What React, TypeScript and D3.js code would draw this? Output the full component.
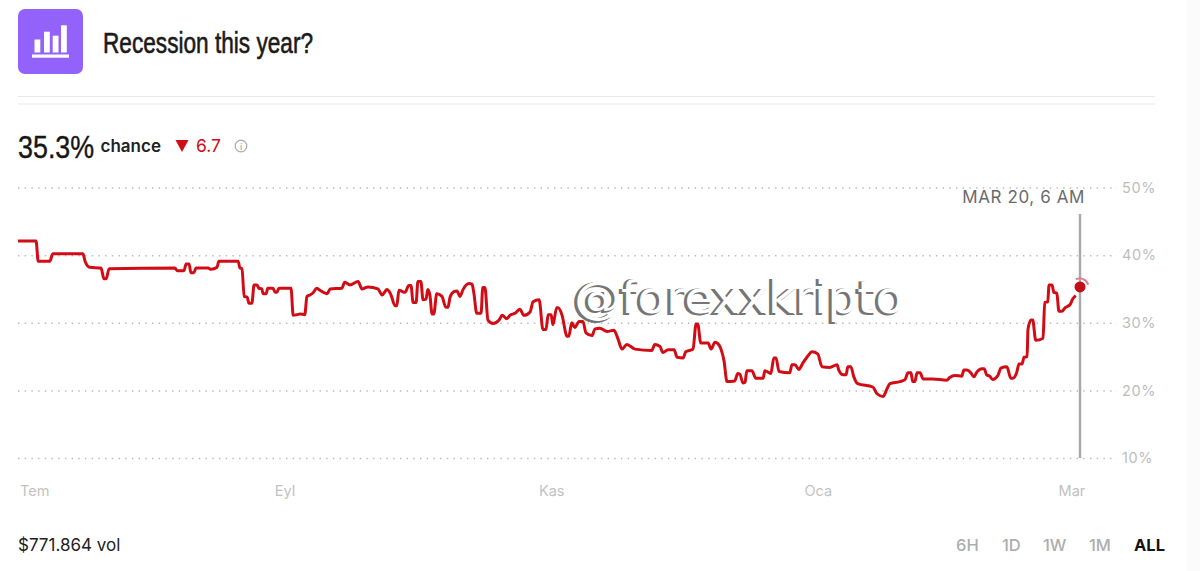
import { useEffect, useRef } from "react";
import * as d3 from "d3";

const width = 1200;
const height = 571;

const title = "Recession this year?";
const currentChance = "35.3%";
const change = "6.7";
const volume = "$771.864 vol";
const hoverLabel = "MAR 20, 6 AM";

const yTicks = [10, 20, 30, 40, 50];
const monthDays = [0, 62, 124, 186, 245];
const monthLabels = ["Tem", "Eyl", "Kas", "Oca", "Mar"];
const ranges = ["6H", "1D", "1W", "1M", "ALL"];
const rangeX = [956, 1002, 1043, 1089, 1134];

const lastDay = 247;
const lastValue = 35.3;

// [days since start, chance %]
const history: [number, number][] = [
  [0, 42.1], [4.2, 42.1], [4.7, 39.1], [7.4, 39.1], [8.1, 40.2], [15.1, 40.2], [15.6, 39.1], [16.7, 38.2],
  [19.3, 38.1], [20, 36.5], [20.5, 36.5], [21.2, 38], [36.5, 38.1], [37, 37.7], [38.6, 37.7], [39.1, 38.7],
  [39.8, 38.7], [40.2, 37.4], [40.9, 37.4], [41.4, 38.1], [44.2, 38.1], [44.9, 37.9], [46.3, 38.2], [46.7, 39.1],
  [51.2, 39.1], [51.6, 38.1], [52.1, 38], [52.6, 33.9], [53.3, 33.8], [53.7, 32.9], [54.4, 32.9], [54.9, 35.6],
  [55.6, 35.6], [56, 35.1], [56.7, 35], [57, 34.3], [57.7, 34.3], [58.1, 35.1], [59.3, 35.1], [59.8, 34.5],
  [60.2, 34.5], [60.7, 35.1], [63.5, 35.1], [64, 31.1], [64.9, 31.2], [65.6, 31.3], [66.7, 31.2], [67.2, 33.9],
  [67.9, 34.1], [68.6, 34.4], [69.5, 35.1], [70.2, 34.8], [71.9, 34.3], [72.6, 35], [75.3, 35.1], [76, 36],
  [77.2, 35.6], [79.1, 36.1], [80, 35], [81.4, 35.3], [83.7, 35], [84.7, 34.1], [85.8, 34.9], [86.7, 34.2],
  [87.7, 32.5], [88.1, 32.5], [88.6, 34.8], [90, 34.5], [90.9, 35.5], [91.4, 35.5], [91.9, 33], [92.6, 33],
  [93, 36.1], [93.7, 36.1], [94.2, 33.4], [94.9, 33.5], [95.3, 34.9], [95.8, 34.1], [96.3, 31.3], [96.7, 31.3],
  [97.4, 34.3], [98.6, 33.9], [99.5, 32.3], [100, 32.3], [100.5, 33.8], [101.4, 34.6], [102.1, 34.7], [102.8, 33.9],
  [103.5, 34.9], [104.9, 35.8], [105.6, 35.7], [106, 34.5], [106.7, 31.4], [107.7, 31.4], [108.1, 35.2], [108.6, 35.2],
  [109.3, 30.4], [110.5, 29.9], [111.9, 30.4], [112.6, 31.1], [113.7, 30.6], [114.4, 31.1], [115.6, 31.4], [116.7, 32],
  [117.7, 31.1], [119.1, 31.6], [119.8, 33.1], [121.2, 33.4], [122.1, 29], [122.8, 29], [123.3, 31.2], [124, 31.2],
  [124.4, 29.7], [125.3, 32.2], [125.6, 32.2], [126.5, 31.2], [127.7, 28], [128.1, 28], [128.8, 30], [129.5, 29.3],
  [130.5, 30.2], [131.4, 30.2], [132.1, 28.5], [133.5, 28.1], [134.2, 29.1], [135.3, 29.2], [137, 28.7], [138.6, 28.9],
  [139.5, 27.7], [140.5, 26.1], [141.6, 26.8], [143.5, 26.1], [147.4, 25.9], [148.1, 26.8], [149.3, 26.5], [150, 25.6],
  [151.2, 26], [152.6, 26], [153.3, 24.9], [154.7, 24.8], [155.3, 25.7], [157, 26.1], [157.7, 29.8], [158.1, 29.8],
  [158.8, 27], [160.5, 27], [161.2, 26.1], [162.1, 27.1], [162.6, 27], [163.5, 26.1], [164.2, 24.4], [164.9, 21.3],
  [166.7, 21.4], [167.4, 22.5], [167.9, 22.4], [168.6, 21.1], [169.1, 21.2], [169.5, 22.9], [170.7, 22.9], [171.6, 21.8],
  [173.3, 21.8], [173.7, 22.9], [175.1, 22.5], [175.8, 24.8], [176.3, 24.8], [177, 22.8], [179.5, 22.6], [180, 23.8],
  [180.7, 23.8], [181.6, 23.1], [182.6, 24.1], [183.5, 24.9], [184.7, 25.7], [186, 25.4], [187, 23.5], [188.8, 23.4],
  [190.5, 23.8], [190.9, 23], [191.9, 22.3], [192.6, 22.3], [193, 23.5], [193.7, 23.5], [194.4, 22], [195.3, 21],
  [198.8, 20.5], [199.8, 19.5], [201.2, 19.1], [202.1, 20.2], [202.8, 21], [205.1, 21.3], [206.3, 21.6], [207, 22.6],
  [207.7, 22.6], [208.1, 21.3], [208.6, 21.3], [209.1, 22.6], [209.8, 22.6], [210.5, 21.7], [212.8, 21.7], [216, 21.5],
  [216.7, 21.9], [217.9, 22.2], [219.5, 22.1], [220, 23], [220.7, 23], [221.6, 22.6], [222.3, 22], [223, 22.7],
  [224.2, 23.2], [224.7, 23.2], [225.3, 22.3], [226, 22.1], [226.7, 21.6], [227.9, 22.2], [228.6, 23.3], [230, 23.5],
  [230.9, 21.8], [231.4, 21.8], [232.3, 22.7], [232.8, 23.9], [233.5, 23.9], [234, 24.9], [234.7, 25], [234.9, 29],
  [235.6, 30.4], [236, 30.4], [236.7, 27.4], [238.4, 27.7], [238.8, 33], [239.5, 33.1], [239.8, 35.6], [240.5, 35.6],
  [240.9, 34.5], [241.6, 34.4], [242.1, 31.7], [242.8, 31.7], [243.5, 32.2], [244.7, 32.7], [245.3, 33.5], [246, 34],
];

const RED = "#d20c14";
const UI_FONT = "Inter, 'Liberation Sans', sans-serif";
const NARROW_FONT = "'Liberation Sans Narrow', 'Liberation Sans', sans-serif";

export default function App() {
  const svgRef = useRef<SVGSVGElement | null>(null);

  useEffect(() => {
    const svgElement = svgRef.current;
    if (!svgElement) return;

    const svg = d3.select(svgElement);
    svg.selectAll("*").remove();

    const xScale = d3.scaleLinear().domain([0, lastDay]).range([18, 1080]);
    const yScale = d3.scaleLinear().domain([10, 50]).range([458, 187.5]);

    // header
    svg.append("rect").attr("x", 1187).attr("width", 13).attr("height", height).attr("fill", "#fbfbfb");
    svg.append("rect").attr("x", 18).attr("y", 9).attr("width", 65).attr("height", 65).attr("rx", 7).attr("fill", "#9362fb");
    const bars: [number, number][] = [[34.5, 39.5], [44, 31.7], [52.7, 35.7], [61, 25.3]];
    svg.selectAll(".icon-bar")
      .data(bars)
      .join("rect")
      .attr("x", (d) => d[0])
      .attr("y", (d) => d[1])
      .attr("width", 5.8)
      .attr("height", (d) => 52.5 - d[1])
      .attr("fill", "#fff");
    svg.append("rect").attr("x", 32).attr("y", 54.5).attr("width", 37).attr("height", 3.2).attr("fill", "#fff");

    svg.append("text")
      .attr("x", 103).attr("y", 53)
      .attr("textLength", 210).attr("lengthAdjust", "spacingAndGlyphs")
      .attr("font-family", NARROW_FONT).attr("font-size", 29).attr("fill", "#1b1b1b")
      .attr("stroke", "#1b1b1b").attr("stroke-width", 0.6)
      .text(title);

    [96.5, 104].forEach((y) => {
      svg.append("line").attr("x1", 18).attr("x2", 1155).attr("y1", y).attr("y2", y)
        .attr("stroke", "#e9e9e9").attr("stroke-width", 1);
    });

    // squeezed by transform so the text box stays as narrow as the glyphs
    svg.append("text")
      .attr("transform", "translate(18,158) scale(0.84,1)")
      .attr("font-family", "'Liberation Sans', sans-serif").attr("font-size", 32).attr("fill", "#161616")
      .attr("stroke", "#161616").attr("stroke-width", 0.4)
      .text(currentChance);
    svg.append("text")
      .attr("x", 100.5).attr("y", 152)
      .attr("font-family", UI_FONT).attr("font-size", 17).attr("font-weight", 600).attr("fill", "#222")
      .text("chance");
    svg.append("path").attr("d", "M175.5,140H188.5L182,152Z").attr("fill", RED);
    svg.append("text")
      .attr("x", 196).attr("y", 152)
      .attr("font-family", UI_FONT).attr("font-size", 17.5).attr("fill", RED)
      .text(change);
    svg.append("circle").attr("cx", 241).attr("cy", 146).attr("r", 5.8)
      .attr("fill", "none").attr("stroke", "#aaa").attr("stroke-width", 1.2);
    svg.append("text")
      .attr("x", 241).attr("y", 149.5).attr("text-anchor", "middle")
      .attr("font-family", UI_FONT).attr("font-size", 9).attr("fill", "#999")
      .text("i");

    // y axis with dotted grid
    const yAxis = d3.axisRight(yScale)
      .tickValues(yTicks)
      .tickSize(1099)
      .tickPadding(5)
      .tickFormat((d) => `${d}%`);
    const yAxisG = svg.append("g").attr("transform", "translate(18,0)").call(yAxis);
    yAxisG.select(".domain").remove();
    yAxisG.selectAll(".tick line")
      .attr("stroke", "#b9b9b9")
      .attr("stroke-width", 1.5)
      .attr("stroke-dasharray", "1.4 5.3");
    yAxisG.selectAll(".tick text")
      .attr("font-family", UI_FONT)
      .attr("font-size", 14.5)
      .attr("letter-spacing", 0.6)
      .attr("fill", "#bdbdbd")
      .attr("dy", "0.32em");

    // x axis
    const xAxis = d3.axisBottom(xScale)
      .tickValues(monthDays)
      .tickSize(0)
      .tickPadding(0)
      .tickFormat((_, i) => monthLabels[i]);
    const xAxisG = svg.append("g").attr("transform", "translate(0,485.5)").call(xAxis);
    xAxisG.select(".domain").remove();
    xAxisG.selectAll(".tick text")
      .attr("font-family", UI_FONT)
      .attr("font-size", 14.5)
      .attr("fill", "#c2c2c2")
      .attr("text-anchor", (_, i) => (i === 0 ? "start" : "middle"))
      .attr("dx", (_, i) => (i === 0 ? 1.5 : 0));

    // hover marker
    svg.append("line")
      .attr("x1", xScale(lastDay)).attr("x2", xScale(lastDay))
      .attr("y1", 214).attr("y2", yScale(10))
      .attr("stroke", "#a9a9a9").attr("stroke-width", 2.5);
    svg.append("text")
      .attr("x", 1085).attr("y", 203).attr("text-anchor", "end")
      .attr("font-family", UI_FONT).attr("font-size", 17).attr("letter-spacing", 0.6).attr("fill", "#6b6b6b")
      .text(hoverLabel);

    // chance line
    const line = d3.line<[number, number]>()
      .x((d) => xScale(d[0]))
      .y((d) => yScale(d[1]))
      .curve(d3.curveMonotoneX);
    svg.append("path")
      .datum(history)
      .attr("fill", "none")
      .attr("stroke", RED)
      .attr("stroke-width", 3)
      .attr("stroke-linejoin", "round")
      .attr("d", line);

    const cx = xScale(lastDay);
    const cy = yScale(lastValue);
    const halo = d3.arc()({ innerRadius: 7.5, outerRadius: 9.5, startAngle: -0.5, endAngle: 1.3 }) as string;
    svg.append("path").attr("transform", `translate(${cx},${cy})`).attr("d", halo).attr("fill", "#e27d85");
    svg.append("circle").attr("cx", cx).attr("cy", cy).attr("r", 5.5).attr("fill", "#c40d18");

    // watermark, white letters over a grey copy
    const mark = "@forexxkripto";
    const drawMark = (dx: number, dy: number, fill: string, stroke: number) =>
      svg.append("text")
        .attr("x", 572 + dx).attr("y", 314 + dy)
        .attr("textLength", 330).attr("lengthAdjust", "spacingAndGlyphs")
        .attr("font-family", "'DejaVu Sans', sans-serif").attr("font-size", 44).attr("fill", fill)
        .attr("stroke", fill).attr("stroke-width", stroke)
        .text(mark);
    drawMark(0, 0, "#757575", 1.8);
    drawMark(2.2, -1.2, "#ffffff", 0);

    // footer
    svg.append("text")
      .attr("x", 18).attr("y", 551)
      .attr("font-family", UI_FONT).attr("font-size", 17).attr("fill", "#222")
      .text(volume);
    svg.selectAll(".range")
      .data(ranges)
      .join("text")
      .attr("x", (_, i) => rangeX[i])
      .attr("y", 551)
      .attr("font-family", UI_FONT)
      .attr("font-size", 16.5)
      .attr("font-weight", (d) => (d === "ALL" ? 700 : 500))
      .attr("fill", (d) => (d === "ALL" ? "#141414" : "#adadad"))
      .text((d) => d);
  }, []);

  return (
    <svg
      ref={svgRef}
      width={width}
      height={height}
      style={{ position: "fixed", left: 0, top: 0, background: "#fff" }}
    />
  );
}
